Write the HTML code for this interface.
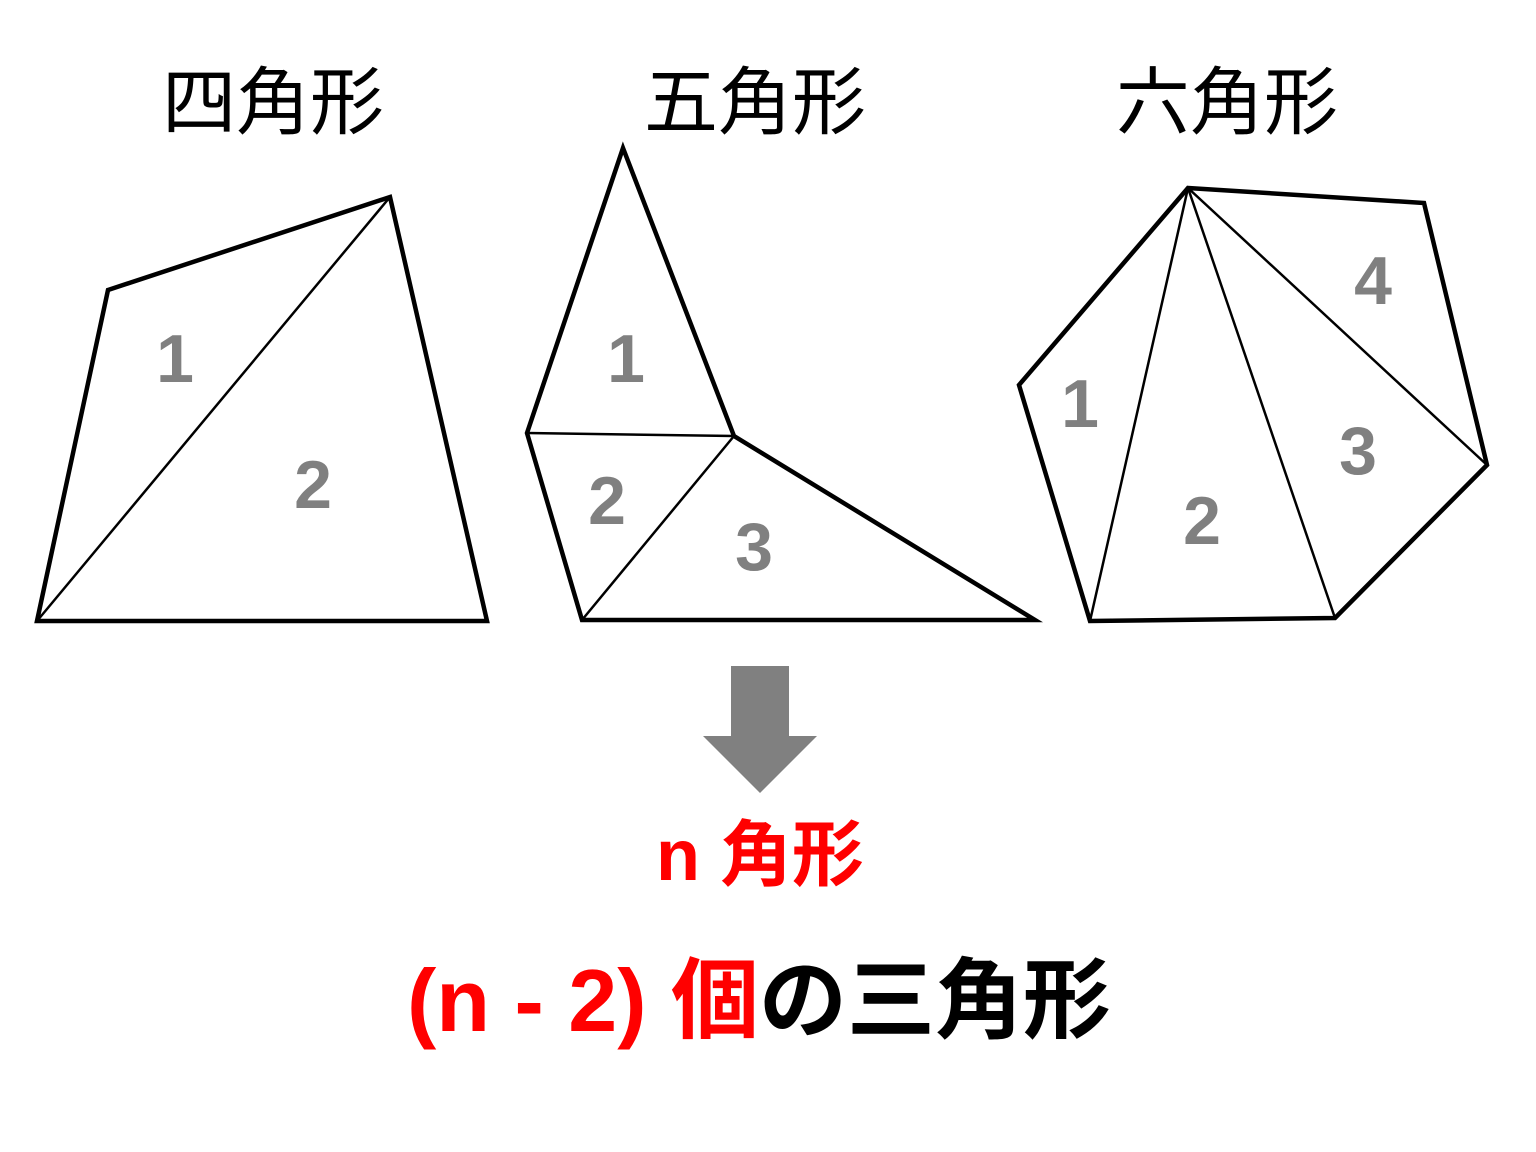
<!DOCTYPE html>
<html><head><meta charset="utf-8"><style>
html,body{margin:0;padding:0;background:#fff;}
svg{display:block;}
</style></head><body>
<svg width="1536" height="1152" viewBox="0 0 1536 1152" xmlns="http://www.w3.org/2000/svg">
<rect width="1536" height="1152" fill="#fff"/>
<g font-family="'Liberation Sans','Noto Sans CJK JP',sans-serif" font-size="74" fill="#000" text-anchor="middle">
<text x="273" y="128">四角形</text>
<text x="755" y="128">五角形</text>
<text x="1227" y="128">六角形</text>
</g>
<g fill="none" stroke="#000" stroke-linejoin="miter">
<polygon points="108,290 390,197 487,621 37,621" stroke-width="4.5"/>
<line x1="37" y1="621" x2="390" y2="197" stroke-width="2.5"/>
<polygon points="623,148 734,436 1035,620 582,620 527,433" stroke-width="4.5"/>
<line x1="527" y1="433" x2="734" y2="436" stroke-width="2.5"/>
<line x1="734" y1="436" x2="582" y2="620" stroke-width="2.5"/>
<polygon points="1188,188 1424,203 1487,465 1335,618 1090,621 1019,385" stroke-width="4.5"/>
<line x1="1188" y1="188" x2="1090" y2="621" stroke-width="2.5"/>
<line x1="1188" y1="188" x2="1335" y2="618" stroke-width="2.5"/>
<line x1="1188" y1="188" x2="1487" y2="465" stroke-width="2.5"/>
</g>
<g font-family="'Liberation Sans',sans-serif" font-weight="bold" font-size="68" fill="#808080" text-anchor="middle">
<text x="175" y="382">1</text>
<text x="313" y="508">2</text>
<text x="626" y="382">1</text>
<text x="607" y="524">2</text>
<text x="754" y="570">3</text>
<text x="1080" y="427">1</text>
<text x="1202" y="544">2</text>
<text x="1358" y="474">3</text>
<text x="1373" y="304">4</text>
</g>
<rect x="731" y="666" width="58" height="71" fill="#808080"/>
<polygon points="703,736 817,736 760,793" fill="#808080"/>
<text x="760" y="880" text-anchor="middle" font-family="'Liberation Sans','Noto Sans CJK JP',sans-serif" font-weight="bold" font-size="72" fill="#ff0000">n 角形</text>
<text x="759" y="1031" text-anchor="middle" font-family="'Liberation Sans','Noto Sans CJK JP',sans-serif" font-weight="bold" font-size="88"><tspan fill="#ff0000">(n - 2) 個</tspan><tspan fill="#000">の三角形</tspan></text>
</svg>
</body></html>
